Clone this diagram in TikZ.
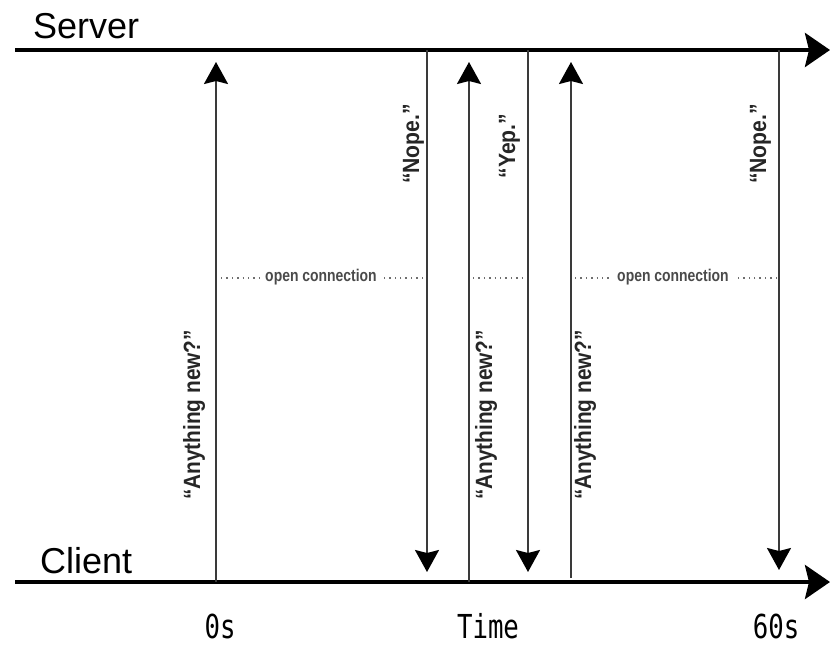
\documentclass[tikz,border=0pt]{standalone}
\usepackage{fontspec}
\setmainfont{Liberation Sans}
\newfontfamily\timefont{DejaVu Sans Mono}
\usetikzlibrary{arrows.meta}
\definecolor{vline}{HTML}{3A3A3A}
\definecolor{dotc}{HTML}{4A4A4A}
\newcommand{\narrowtxt}[2]{\scalebox{#1}[1]{#2}}
\tikzset{
  axis/.style={line width=4pt, -{Stealth[length=25pt,width=34pt,inset=4pt]}},
  msg/.style={line width=2pt, draw=vline, -{Stealth[length=22pt,width=24pt,inset=3pt,color=black]}},
  lbl/.style={font=\fontsize{23.5}{26}\selectfont\bfseries, text=black!85, rotate=90, anchor=base, inner sep=0pt},
  side/.style={font=\fontsize{36}{40}\selectfont, anchor=base west, inner sep=0pt},
  tlbl/.style={font=\timefont\fontsize{33}{36}\selectfont, xscale=0.78, anchor=base, inner sep=0pt},
  oc/.style={font=\fontsize{17}{20}\selectfont\bfseries, text=dotc, inner sep=5pt, anchor=base},
  dotline/.style={line width=1.4pt, draw=dotc!80, dash pattern=on 1.4pt off 4pt}
}
\begin{document}
\begin{tikzpicture}[x=1pt,y=-1pt]
\useasboundingbox (0,0) rectangle (830,645);
% axes
\coordinate (s0) at (15,50);
\coordinate (s1) at (830,50);
\coordinate (c0) at (15,582);
\coordinate (c1) at (830,582);
\draw[axis] (s0) -- (s1);
\draw[axis] (c0) -- (c1);
\node[side] (server) at (33,38) {Server};
\node[side] (client) at (40,573) {Client};
% time labels
\node[tlbl] (t0) at (220,638) {0s};
\node[tlbl] (tm) at (488,638) {Time};
\node[tlbl] (t60) at (776,638) {60s};
% message lines
\coordinate (a1b) at (216,582); \coordinate (a1t) at (216,62);
\coordinate (n1t) at (427,50);  \coordinate (n1b) at (427,572);
\coordinate (a2b) at (469,582); \coordinate (a2t) at (469,62);
\coordinate (y1t) at (528,50);  \coordinate (y1b) at (528,572);
\coordinate (a3b) at (571,578); \coordinate (a3t) at (571,62);
\coordinate (n2t) at (779,50);  \coordinate (n2b) at (779,570);
\draw[msg] (a1b) -- (a1t);
\draw[msg] (n1t) -- (n1b);
\draw[msg] (a2b) -- (a2t);
\draw[msg] (y1t) -- (y1b);
\draw[msg] (a3b) -- (a3t);
\draw[msg] (n2t) -- (n2b);
% labels
\node[lbl] (l1) at (200,415) {\narrowtxt{0.885}{“Anything new?”}};
\node[lbl] (l2) at (419,144) {\narrowtxt{0.9}{“Nope.”}};
\node[lbl] (l3) at (492,415) {\narrowtxt{0.885}{“Anything new?”}};
\node[lbl] (l4) at (515,146) {\narrowtxt{0.9}{“Yep.”}};
\node[lbl] (l5) at (591,415) {\narrowtxt{0.885}{“Anything new?”}};
\node[lbl] (l6) at (766,144) {\narrowtxt{0.9}{“Nope.”}};
% open connections
\node[oc] (oc1) at (321,281.5) {\narrowtxt{0.82}{open connection}};
\node[oc] (oc2) at (673,281.5) {\narrowtxt{0.82}{open connection}};
\coordinate (d1a) at (221,278); \coordinate (d1b) at (423,278);
\coordinate (d2a) at (473,278); \coordinate (d2b) at (525,278);
\coordinate (d3a) at (575,278); \coordinate (d3b) at (777,278);
\draw[dotline] (d1a) -- (d1a -| oc1.west);
\draw[dotline] (d1b) -- (d1b -| oc1.east);
\draw[dotline] (d2a) -- (d2b);
\draw[dotline] (d3a) -- (d3a -| oc2.west);
\draw[dotline] (d3b) -- (d3b -| oc2.east);
\end{tikzpicture}
\end{document}
